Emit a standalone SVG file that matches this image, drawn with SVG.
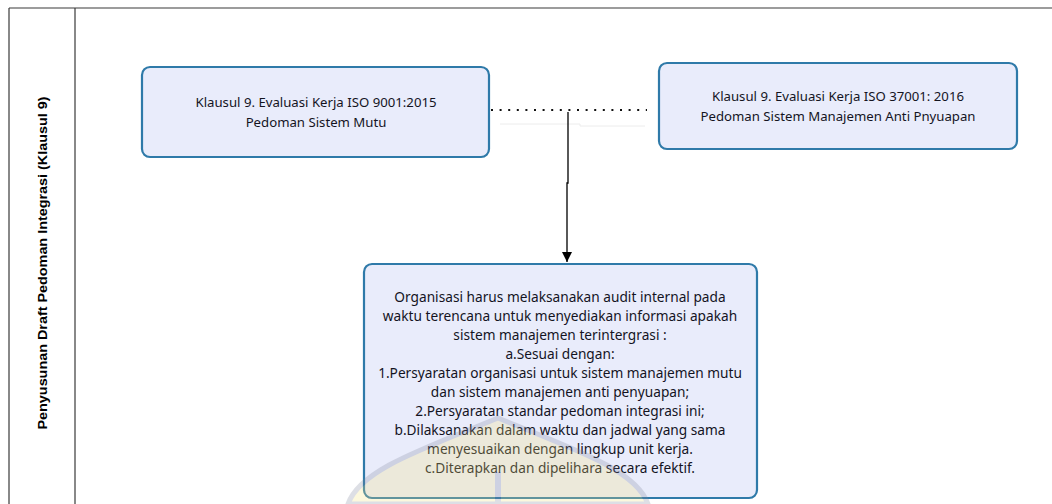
<svg xmlns="http://www.w3.org/2000/svg" width="1052" height="504" viewBox="0 0 1052 504">
<style>
.frame{fill:none;stroke:#3a3a3a;stroke-width:1.2}
.box{fill:#e9ecfb;stroke:#2f7aa9;stroke-width:2.2}
.t{font-family:"Noto Sans","Open Sans",sans-serif;fill:#14141f;text-anchor:middle}
.ts{font-size:13.2px}
.tb{font-size:13.7px}
.lane{font-family:"Liberation Sans",Arial,sans-serif;font-weight:bold;font-size:13px;fill:#000;text-anchor:middle}
</style>
<defs>
<marker id="arr" viewBox="0 0 10 10" refX="10" refY="5" markerWidth="10" markerHeight="10" markerUnits="userSpaceOnUse" orient="auto">
<path d="M0,0 L10,5 L0,10 z" fill="#000"/>
</marker>
</defs>
<rect width="1052" height="504" fill="#ffffff"/>
<g id="lane">
<path class="frame" d="M9,8 H1052 M9,8 V504 M75,8 V504"/>
<text class="lane" transform="translate(47,263) rotate(-90)" textLength="333" lengthAdjust="spacingAndGlyphs">Penyusunan Draft Pedoman Integrasi (Klausul 9)</text>
</g>
<g id="connectors">
<path d="M500,124 H580 V126 H645" fill="none" stroke="#ececec" stroke-width="1"/>
<line x1="491" y1="110" x2="647" y2="110" stroke="#111" stroke-width="2" stroke-dasharray="2 6.6"/>
<path d="M568,112 V183 H567 V262" fill="none" stroke="#000" stroke-width="1.3" marker-end="url(#arr)"/>
</g>
<g id="node-iso9001">
<rect class="box" x="142" y="67" width="347" height="90" rx="8"/>
<text class="t ts" x="316" y="107">Klausul 9. Evaluasi Kerja ISO 9001:2015</text>
<text class="t ts" x="316" y="127">Pedoman Sistem Mutu</text>
</g>
<g id="node-iso37001">
<rect class="box" x="659" y="63" width="358" height="86" rx="8"/>
<text class="t ts" x="838" y="101">Klausul 9. Evaluasi Kerja ISO 37001: 2016</text>
<text class="t ts" x="838" y="121">Pedoman Sistem Manajemen Anti Pnyuapan</text>
</g>
<g id="node-audit">
<rect class="box" x="364" y="264" width="393" height="234" rx="8"/>
<text class="t tb" x="560" y="302">Organisasi harus melaksanakan audit internal pada</text>
<text class="t tb" x="560" y="321">waktu terencana untuk menyediakan informasi apakah</text>
<text class="t tb" x="560" y="340">sistem manajemen terintergrasi :</text>
<text class="t tb" x="560" y="359">a.Sesuai dengan:</text>
<text class="t tb" x="560" y="378">1.Persyaratan organisasi untuk sistem manajemen mutu</text>
<text class="t tb" x="560" y="397">dan sistem manajemen anti penyuapan;</text>
<text class="t tb" x="560" y="416">2.Persyaratan standar pedoman integrasi ini;</text>
<text class="t tb" x="560" y="435">b.Dilaksanakan dalam waktu dan jadwal yang sama</text>
<text class="t tb" x="560" y="454">menyesuaikan dengan lingkup unit kerja.</text>
<text class="t tb" x="560" y="473">c.Diterapkan dan dipelihara secara efektif.</text>
</g>
<g id="watermark" opacity="0.25">
<path d="M348,504 C360,470 420,450 498,418 C576,450 636,470 648,504 Z" fill="#f5e47a" stroke="#7d8299" stroke-width="5"/>
<line x1="498" y1="472" x2="498" y2="504" stroke="#7d8299" stroke-width="6"/>
</g>
</svg>
